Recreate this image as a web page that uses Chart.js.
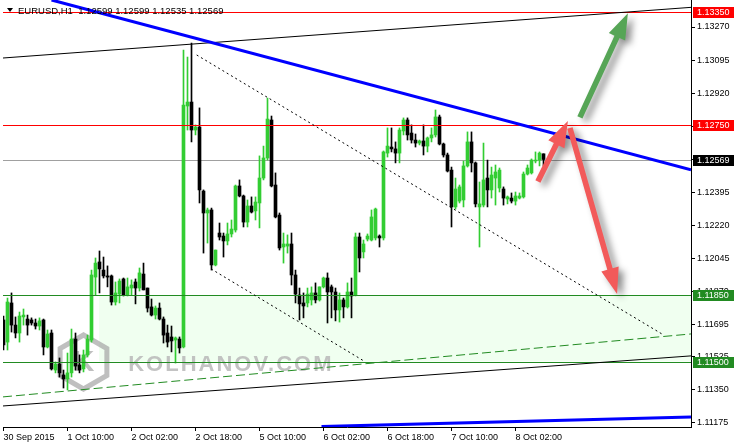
<!DOCTYPE html>
<html>
<head>
<meta charset="utf-8">
<script src="https://cdn.jsdelivr.net/npm/chart.js@4.4.0/dist/chart.umd.min.js"></script>
<style>
  body { margin: 0; background: #fff; }
  #chart { display: block; }
</style>
</head>
<body>
<canvas id="chart" width="734" height="445"></canvas>
<script>
// EURUSD H1, 30 Sep 2015 18:00 .. 8 Oct 2015, one entry per hourly bar
const headerText = "EURUSD,H1  1.12599 1.12599 1.12535 1.12569";

const open = [
  1.11720,1.11603,1.11810,1.11693,1.11651,1.11736,1.11725,1.11720,1.11704,1.11688,
  1.11720,1.11577,1.11651,1.11455,1.11487,1.11429,1.11408,1.11440,1.11619,1.11482,
  1.11461,1.11535,1.11614,1.11947,1.12027,1.11984,1.11953,1.11953,1.11815,1.11857,
  1.11937,1.11852,1.11889,1.11921,1.11889,1.11963,1.11889,1.11789,1.11746,1.11783,
  1.11725,1.11651,1.11630,1.11614,1.11619,1.11577,1.12852,1.12873,1.12725,1.12741,
  1.12402,1.12286,1.12302,1.12011,1.12180,1.12164,1.12138,1.12175,1.12196,1.12429,
  1.12376,1.12238,1.12323,1.12297,1.12339,1.12471,1.12577,1.12778,1.12434,1.12275,
  1.12106,1.12111,1.12122,1.11958,1.11852,1.11810,1.11810,1.11826,1.11863,1.11826,
  1.11895,1.11942,1.11895,1.11868,1.11773,1.11826,1.11789,1.11868,1.11852,1.12159,
  1.12080,1.12148,1.12143,1.12154,1.12164,1.12154,1.12603,1.12635,1.12625,1.12603,
  1.12720,1.12778,1.12709,1.12672,1.12656,1.12667,1.12640,1.12683,1.12699,1.12794,
  1.12651,1.12593,1.12513,1.12318,1.12349,1.12355,1.12535,1.12662,1.12551,1.12318,
  1.12328,1.12471,1.12408,1.12471,1.12418,1.12413,1.12360,1.12365,1.12349,1.12365,
  1.12371,1.12492,1.12498,1.12561,1.12566,1.12599
];
const high = [
  1.11741,1.11836,1.11863,1.11736,1.11762,1.11778,1.11746,1.11731,1.11725,1.11731,
  1.11725,1.11667,1.11667,1.11498,1.11519,1.11455,1.11545,1.11672,1.11651,1.11535,
  1.11561,1.11640,1.11984,1.12048,1.12085,1.12053,1.12006,1.11958,1.11921,1.11937,
  1.11942,1.11942,1.11932,1.11937,1.11995,1.12021,1.11889,1.11831,1.11794,1.11810,
  1.11736,1.11693,1.11688,1.11630,1.11630,1.13148,1.13111,1.13185,1.12752,1.12842,
  1.12408,1.12312,1.12312,1.12090,1.12233,1.12180,1.12233,1.12249,1.12434,1.12461,
  1.12381,1.12355,1.12371,1.12371,1.12588,1.12640,1.12894,1.12799,1.12498,1.12286,
  1.12180,1.12170,1.12180,1.11984,1.11889,1.11863,1.11889,1.11895,1.11916,1.11895,
  1.11947,1.11969,1.11905,1.11889,1.11863,1.11836,1.11916,1.11942,1.12180,1.12180,
  1.12143,1.12175,1.12302,1.12312,1.12170,1.12614,1.12736,1.12736,1.12662,1.12736,
  1.12789,1.12789,1.12752,1.12704,1.12672,1.12752,1.12688,1.12736,1.12831,1.12804,
  1.12656,1.12603,1.12529,1.12471,1.12434,1.12561,1.12715,1.12715,1.12556,1.12450,
  1.12656,1.12566,1.12529,1.12540,1.12524,1.12424,1.12376,1.12392,1.12397,1.12392,
  1.12503,1.12540,1.12572,1.12609,1.12609,1.12599
];
const low = [
  1.11561,1.11561,1.11656,1.11625,1.11603,1.11693,1.11640,1.11693,1.11672,1.11667,
  1.11535,1.11572,1.11455,1.11440,1.11418,1.11360,1.11350,1.11418,1.11455,1.11440,
  1.11445,1.11524,1.11603,1.11852,1.11863,1.11942,1.11895,1.11799,1.11799,1.11810,
  1.11847,1.11847,1.11852,1.11805,1.11873,1.11879,1.11762,1.11741,1.11725,1.11720,
  1.11598,1.11577,1.11551,1.11492,1.11545,1.11572,1.12725,1.12662,1.12699,1.12339,
  1.12074,1.12127,1.11984,1.12006,1.12143,1.12053,1.12117,1.12159,1.12185,1.12371,
  1.12212,1.12212,1.12286,1.12249,1.12207,1.12461,1.12566,1.12424,1.12260,1.12090,
  1.12021,1.12074,1.11905,1.11810,1.11720,1.11731,1.11789,1.11799,1.11810,1.11820,
  1.11889,1.11704,1.11731,1.11715,1.11709,1.11731,1.11783,1.11731,1.11847,1.11974,
  1.12048,1.12138,1.12138,1.12143,1.12106,1.12143,1.12582,1.12609,1.12551,1.12551,
  1.12699,1.12672,1.12656,1.12635,1.12646,1.12593,1.12609,1.12662,1.12688,1.12646,
  1.12582,1.12503,1.12212,1.12307,1.12339,1.12318,1.12529,1.12503,1.12318,1.12106,
  1.12318,1.12318,1.12365,1.12328,1.12397,1.12328,1.12334,1.12339,1.12328,1.12360,
  1.12365,1.12487,1.12492,1.12551,1.12535,1.12535
];
const close = [
  1.11588,1.11815,1.11693,1.11651,1.11741,1.11746,1.11693,1.11704,1.11688,1.11715,
  1.11577,1.11646,1.11461,1.11487,1.11440,1.11408,1.11440,1.11619,1.11476,1.11455,
  1.11535,1.11619,1.11958,1.12021,1.11990,1.11953,1.11947,1.11815,1.11863,1.11926,
  1.11852,1.11895,1.11905,1.11889,1.11969,1.11879,1.11783,1.11746,1.11783,1.11725,
  1.11640,1.11603,1.11609,1.11625,1.11572,1.12857,1.12873,1.12725,1.12741,1.12408,
  1.12286,1.12302,1.12011,1.12090,1.12159,1.12138,1.12175,1.12201,1.12429,1.12376,
  1.12238,1.12323,1.12291,1.12344,1.12471,1.12577,1.12783,1.12429,1.12265,1.12101,
  1.12122,1.12122,1.11958,1.11857,1.11805,1.11794,1.11857,1.11863,1.11826,1.11895,
  1.11942,1.11868,1.11868,1.11773,1.11826,1.11789,1.11868,1.11847,1.12159,1.12048,
  1.12122,1.12164,1.12265,1.12307,1.12154,1.12609,1.12640,1.12625,1.12603,1.12725,
  1.12778,1.12699,1.12672,1.12656,1.12667,1.12640,1.12683,1.12699,1.12794,1.12651,
  1.12593,1.12508,1.12318,1.12413,1.12424,1.12535,1.12662,1.12551,1.12334,1.12334,
  1.12461,1.12408,1.12487,1.12503,1.12513,1.12365,1.12371,1.12349,1.12376,1.12376,
  1.12492,1.12524,1.12566,1.12566,1.12603,1.12569
];

// time axis: bar index of each label
const timeTickBars = [0, 16, 32, 48, 64, 80, 96, 112, 128];
const timeLabels = ["30 Sep 2015", "1 Oct 10:00", "2 Oct 02:00", "2 Oct 18:00", "5 Oct 10:00",
  "6 Oct 02:00", "6 Oct 18:00", "7 Oct 10:00", "8 Oct 02:00"];

// price axis
const priceTicks = [1.11175, 1.11350, 1.11525, 1.11695, 1.11870, 1.12045, 1.12220,
  1.12395, 1.12570, 1.12745, 1.12920, 1.13095, 1.13270];
const priceTickLabels = ["1.11175", "1.11350", "1.11525", "1.11695", "1.11870", "1.12045", "1.12220",
  "1.12395", "1.12570", "1.12745", "1.12920", "1.13095", "1.13270"];
const priceMin = 1.111537;
const priceMax = 1.134129;
const barMin = -0.125;
const barMax = 171.875;

// levels drawn on the chart
const redLevels = [1.13350, 1.12750];
const greenLevels = [1.11850, 1.11500];
const bidPrice = 1.12569;
const zoneBars = [23.9, 171.9];      // green zone between the two green levels

// trend lines: [bar, price] pairs
const blueLine = [[12, 1.13413], [171.875, 1.12514]];
const blueLowLine = [[79.5, 1.11156], [171.875, 1.11207]];
const channelTop = [[-0.125, 1.13106], [171.875, 1.13374]];
const channelBottom = [[-0.125, 1.11265], [171.875, 1.11530]];
const greenDashLine = [[-0.125, 1.11313], [171.875, 1.11646]];
const dotLineUpper = [[48.3, 1.13122], [164.6, 1.11646]];
const dotLineLower = [[51.9, 1.11990], [90.1, 1.11503]];

// forecast arrows: [bar, price] tail -> tip
const greenArrow = [[144.1, 1.12792], [156.1, 1.13343]];
const redArrowUp = [[133.6, 1.12452], [141.1, 1.12773]];
const redArrowDown = [[141.6, 1.12736], [153.4, 1.11857]];

const candleColor = close.map((c, i) => (c >= open[i] ? "#32cd32" : "#000000"));
const wickData = high.map((h, i) => ({ x: i, y: [low[i], h] }));
const bodyData = open.map((o, i) => ({ x: i, y: [o, close[i]] }));

function line(ctx, xs, ys, pts, color, width, dash) {
  ctx.save();
  ctx.strokeStyle = color;
  ctx.lineWidth = width;
  ctx.setLineDash(dash || []);
  ctx.beginPath();
  ctx.moveTo(xs.getPixelForValue(pts[0][0]), ys.getPixelForValue(pts[0][1]));
  ctx.lineTo(xs.getPixelForValue(pts[1][0]), ys.getPixelForValue(pts[1][1]));
  ctx.stroke();
  ctx.restore();
}

function arrow(ctx, xs, ys, pts, color) {
  const ax = xs.getPixelForValue(pts[0][0]), ay = ys.getPixelForValue(pts[0][1]);
  const bx = xs.getPixelForValue(pts[1][0]), by = ys.getPixelForValue(pts[1][1]);
  const len = Math.hypot(bx - ax, by - ay);
  const ux = (bx - ax) / len, uy = (by - ay) / len;
  const nx = -uy, ny = ux;
  const hl = 26, hw = 9, sw = 2.8;
  const cx = bx - ux * hl, cy = by - uy * hl;
  ctx.save();
  ctx.shadowColor = "rgba(0,0,0,0.45)";
  ctx.shadowBlur = 7;
  ctx.shadowOffsetX = 5;
  ctx.shadowOffsetY = 4;
  ctx.fillStyle = color;
  ctx.beginPath();
  ctx.moveTo(ax + nx * sw, ay + ny * sw);
  ctx.lineTo(cx + nx * sw, cy + ny * sw);
  ctx.lineTo(cx + nx * hw, cy + ny * hw);
  ctx.lineTo(bx, by);
  ctx.lineTo(cx - nx * hw, cy - ny * hw);
  ctx.lineTo(cx - nx * sw, cy - ny * sw);
  ctx.lineTo(ax - nx * sw, ay - ny * sw);
  ctx.closePath();
  ctx.fill();
  ctx.restore();
}

const mt4Plugin = {
  id: "mt4",
  beforeDatasetsDraw(chart) {
    const { ctx, chartArea: a, scales: { x, y } } = chart;
    ctx.save();
    ctx.beginPath();
    ctx.rect(a.left, a.top, a.right - a.left, a.bottom - a.top);
    ctx.clip();
    // green zone
    const zx1 = x.getPixelForValue(zoneBars[0]), zx2 = x.getPixelForValue(zoneBars[1]);
    const zy1 = y.getPixelForValue(greenLevels[0]), zy2 = y.getPixelForValue(greenLevels[1]);
    ctx.fillStyle = "#f0fff0";
    ctx.fillRect(zx1, zy1, zx2 - zx1, zy2 - zy1);
    // watermark
    const w = a.right - a.left;
    const hx = a.left + w * 0.117, hy = a.top + 362, r = 27;
    ctx.strokeStyle = "rgba(170,170,170,0.75)";
    ctx.lineWidth = 5;
    ctx.beginPath();
    for (let i = 0; i < 6; i++) {
      const ang = Math.PI / 2 + i * Math.PI / 3;
      const px = hx + r * Math.cos(ang), py = hy - r * Math.sin(ang);
      if (i === 0) ctx.moveTo(px, py); else ctx.lineTo(px, py);
    }
    ctx.closePath();
    ctx.stroke();
    ctx.fillStyle = "rgba(175,175,175,0.8)";
    ctx.font = "bold 30px 'Liberation Sans'";
    ctx.textAlign = "center";
    ctx.textBaseline = "middle";
    ctx.fillText("K", hx, hy + 1);
    ctx.textAlign = "left";
    ctx.textBaseline = "alphabetic";
    ctx.font = "bold 22px 'Liberation Sans'";
    ctx.letterSpacing = "2px";
    ctx.fillStyle = "rgba(185,185,185,0.85)";
    ctx.fillText("KOLHANOV.COM", a.left + w * 0.182, a.top + 371);
    ctx.letterSpacing = "0px";
    // bid line
    ctx.strokeStyle = "#a0a0a0";
    ctx.lineWidth = 1;
    const by = Math.round(y.getPixelForValue(bidPrice)) + 0.5;
    ctx.beginPath();
    ctx.moveTo(a.left, by);
    ctx.lineTo(a.right, by);
    ctx.stroke();
    ctx.restore();
  },
  afterDatasetsDraw(chart) {
    const { ctx, chartArea: a, scales: { x, y } } = chart;
    ctx.save();
    ctx.beginPath();
    ctx.rect(a.left, a.top, a.right - a.left, a.bottom - a.top);
    ctx.clip();
    const hline = (v, color) => {
      const py = Math.round(y.getPixelForValue(v)) + 0.5;
      ctx.strokeStyle = color;
      ctx.lineWidth = 1;
      ctx.beginPath();
      ctx.moveTo(a.left, py);
      ctx.lineTo(a.right, py);
      ctx.stroke();
    };
    redLevels.forEach(v => hline(v, "#ff0000"));
    greenLevels.forEach(v => hline(v, "#228b22"));
    line(ctx, x, y, channelTop, "#000000", 1);
    line(ctx, x, y, channelBottom, "#000000", 1);
    line(ctx, x, y, greenDashLine, "#228b22", 1, [9, 4]);
    line(ctx, x, y, dotLineUpper, "#000000", 1, [2, 3]);
    line(ctx, x, y, dotLineLower, "#000000", 1, [2, 3]);
    line(ctx, x, y, blueLine, "#0000ff", 3);
    line(ctx, x, y, blueLowLine, "#0000ff", 3);
    arrow(ctx, x, y, greenArrow, "#56a556");
    arrow(ctx, x, y, redArrowUp, "#f25a5a");
    arrow(ctx, x, y, redArrowDown, "#f25a5a");
    ctx.restore();

    // header
    ctx.save();
    ctx.fillStyle = "#000";
    ctx.beginPath();
    ctx.moveTo(a.left + 4, a.top + 8);
    ctx.lineTo(a.left + 10, a.top + 8);
    ctx.lineTo(a.left + 7, a.top + 12);
    ctx.closePath();
    ctx.fill();
    ctx.font = "9.5px 'Liberation Sans'";
    ctx.textBaseline = "alphabetic";
    ctx.fillText(headerText, a.left + 15, a.top + 14);
    ctx.restore();
  },
  afterDraw(chart) {
    const { ctx, scales: { y } } = chart;
    const boxes = [
      [redLevels[0], "#ff0000"], [redLevels[1], "#ff0000"], [bidPrice, "#000000"],
      [greenLevels[0], "#228b22"], [greenLevels[1], "#228b22"]
    ];
    ctx.save();
    ctx.font = "9px 'Liberation Sans'";
    ctx.textBaseline = "middle";
    boxes.forEach(([v, bg]) => {
      const py = Math.round(y.getPixelForValue(v));
      ctx.fillStyle = bg;
      ctx.fillRect(y.left + 2, py - 5, y.right - y.left - 2, 11);
      ctx.fillStyle = "#fff";
      ctx.fillText(v.toFixed(5), y.left + 6, py + 0.5);
    });
    ctx.restore();
  }
};

new Chart(document.getElementById("chart"), {
  type: "bar",
  data: {
    datasets: [
      { data: wickData, backgroundColor: candleColor, barThickness: 1, grouped: false, borderWidth: 0, order: 2 },
      { data: bodyData, backgroundColor: candleColor, barThickness: 3, grouped: false, borderWidth: 0, order: 1 }
    ]
  },
  options: {
    responsive: false,
    animation: false,
    devicePixelRatio: 1,
    events: [],
    layout: { padding: { left: 3, top: 0, right: 0, bottom: 0 } },
    plugins: { legend: { display: false }, tooltip: { enabled: false } },
    scales: {
      x: {
        type: "linear",
        offset: false,
        bounds: "data",
        min: barMin,
        max: barMax,
        afterBuildTicks: s => { s.ticks = timeTickBars.map(v => ({ value: v })); },
        afterFit: s => { s.height = 18; s.paddingLeft = 0; s.paddingRight = 0; },
        ticks: {
          align: "start", maxRotation: 0, autoSkip: false, padding: 1, color: "#000",
          font: { family: "Liberation Sans", size: 9 },
          callback: (v, i) => timeLabels[i]
        },
        grid: { drawOnChartArea: false, tickLength: 4, color: "#000", offset: false },
        border: { display: true, color: "#000" }
      },
      y: {
        position: "right",
        bounds: "data",
        min: priceMin,
        max: priceMax,
        afterBuildTicks: s => { s.ticks = priceTicks.map(v => ({ value: v })); },
        afterFit: s => { s.width = 43; s.paddingTop = 0; s.paddingBottom = 0; },
        ticks: {
          autoSkip: false, padding: 2, color: "#000",
          font: { family: "Liberation Sans", size: 9 },
          callback: (v, i) => priceTickLabels[i]
        },
        grid: { drawOnChartArea: false, tickLength: 4, color: "#000" },
        border: { display: true, color: "#000" }
      }
    }
  },
  plugins: [mt4Plugin]
});
</script>
</body>
</html>
